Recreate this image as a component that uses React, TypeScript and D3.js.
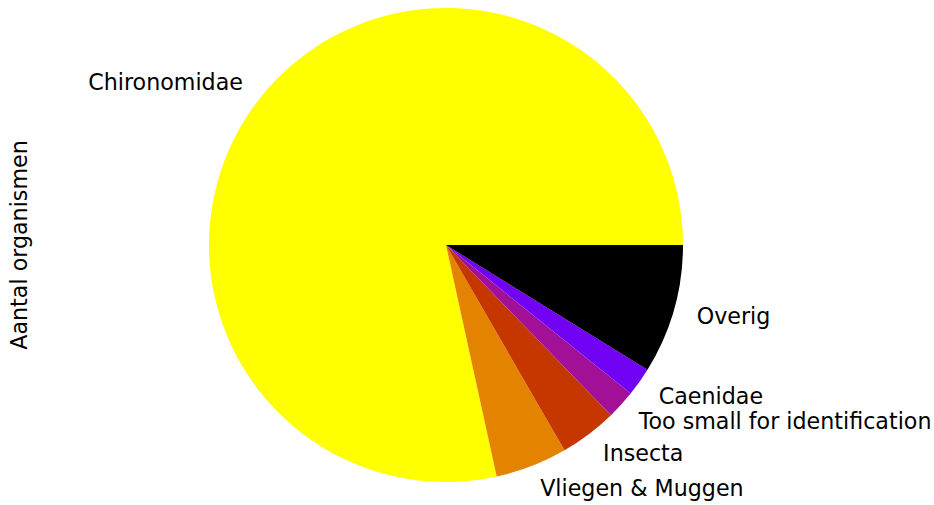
import React from "react";
import * as d3 from "d3";

const categories: string[] = [
  "Chironomidae",
  "Vliegen & Muggen",
  "Insecta",
  "Too small for identification",
  "Caenidae",
  "Overig",
];
const counts: number[] = [800, 50, 40, 20, 20, 90];
const colors: string[] = ["#ffff00", "#e48300", "#c63700", "#a11096", "#7202f3", "#000000"];
const yLabel = "Aantal organismen";

const W = 934;
const H = 505;
const CX = 446;
const CY = 245;
const R = 237;
const FONT = 22.2;

export default function App() {
  const data = categories.map((c, i) => ({ name: c, value: counts[i], color: colors[i] }));
  const pie = d3
    .pie<{ name: string; value: number; color: string }>()
    .sort(null)
    .value((d) => d.value)
    .startAngle(Math.PI / 2)
    .endAngle(Math.PI / 2 - 2 * Math.PI);
  const arcs = pie(data);
  const arc = d3.arc<d3.PieArcDatum<any>>().innerRadius(0).outerRadius(R);

  return (
    <svg
      width={W}
      height={H}
      style={{ position: "absolute", left: 0, top: 0, background: "#fff" }}
      fontFamily="DejaVu Sans"
    >
      <g transform={`translate(${CX},${CY})`}>
        {arcs.map((a, i) => (
          <path key={i} d={arc(a) || ""} fill={a.data.color} />
        ))}
        {arcs.map((a, i) => {
          const mid = (a.startAngle + a.endAngle) / 2;
          const LR = R * 1.1;
          const x = Math.sin(mid) * LR;
          const y = -Math.cos(mid) * LR;
          return (
            <text
              key={"t" + i}
              x={x}
              y={y}
              fontSize={FONT}
              textAnchor={x > 0 ? "start" : "end"}
              dominantBaseline="central"
              fill="#000"
            >
              {a.data.name}
            </text>
          );
        })}
      </g>
      <text
        transform={`translate(19,${CY}) rotate(-90)`}
        textAnchor="middle"
        fontSize={FONT}
        dominantBaseline="central"
        fill="#000"
      >
        {yLabel}
      </text>
    </svg>
  );
}
